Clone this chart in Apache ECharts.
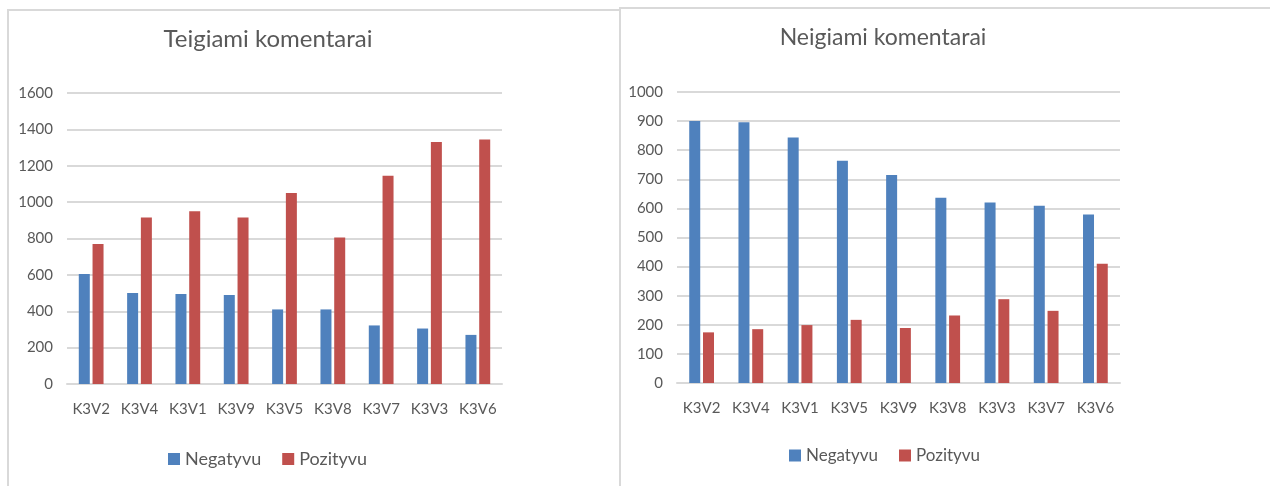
<!DOCTYPE html>
<html>
<head>
<meta charset="utf-8">
<script src="https://cdn.jsdelivr.net/npm/echarts@6/dist/echarts.min.js"></script>
<style>
  html, body { margin: 0; padding: 0; background: #fff; }
  #chart { width: 1270px; height: 486px; }
</style>
</head>
<body>
<div id="chart"></div>
<script>
// Positive comments chart
const posCategories = ['K3V2', 'K3V4', 'K3V1', 'K3V9', 'K3V5', 'K3V8', 'K3V7', 'K3V3', 'K3V6'];
const posNegatyvu = [605, 500, 495, 490, 410, 410, 322, 305, 270];
const posPozityvu = [770, 915, 950, 915, 1050, 805, 1145, 1330, 1345];

// Negative comments chart
const negCategories = ['K3V2', 'K3V4', 'K3V1', 'K3V5', 'K3V9', 'K3V8', 'K3V3', 'K3V7', 'K3V6'];
const negNegatyvu = [900, 896, 844, 764, 715, 637, 620, 609, 579];
const negPozityvu = [174, 185, 199, 217, 189, 232, 288, 248, 410];

const seriesNames = ['Negatyvu', 'Pozityvu'];
const titles = ['Teigiami komentarai', 'Neigiami komentarai'];

const BLUE = '#4F81BD';
const RED = '#C0504D';
const TEXT = '#595959';
const GRID = '#D9D9D9';
const FONT = 'Lato, "Open Sans", sans-serif';

const chart = echarts.init(document.getElementById('chart'), null, { renderer: 'canvas' });

function yAxis(gridIndex, max, interval, size) {
  return {
    type: 'value', gridIndex, min: 0, max, interval,
    axisLine: { show: false }, axisTick: { show: false },
    axisLabel: { color: TEXT, fontFamily: FONT, fontSize: size, margin: 14,
                 formatter: v => String(v) },
    splitLine: { lineStyle: { color: GRID, width: 2 } }
  };
}
function xAxis(gridIndex, data, size) {
  return {
    type: 'category', gridIndex, data,
    axisLine: { lineStyle: { color: GRID, width: 2 } },
    axisTick: { show: false },
    axisLabel: { color: TEXT, fontFamily: FONT, fontSize: size, margin: 18, interval: 0 }
  };
}
function bar(name, data, axisIndex, color) {
  return {
    name, type: 'bar', data, xAxisIndex: axisIndex, yAxisIndex: axisIndex,
    barWidth: 11, barGap: '25%',
    itemStyle: { color }
  };
}

chart.setOption({
  animation: false,
  title: [
    { text: titles[0], left: 263, top: 22, textAlign: 'center',
      textStyle: { color: TEXT, fontFamily: FONT, fontSize: 24, fontWeight: 'normal' } },
    { text: titles[1], left: 878, top: 21, textAlign: 'center',
      textStyle: { color: TEXT, fontFamily: FONT, fontSize: 23, fontWeight: 'normal' } }
  ],
  legend: [
    { data: seriesNames, left: 163, top: 445, icon: 'rect', itemWidth: 12, itemHeight: 12, itemGap: 21,
      textStyle: { color: TEXT, fontFamily: FONT, fontSize: 18 } },
    { data: seriesNames, left: 784, top: 442, icon: 'rect', itemWidth: 12, itemHeight: 12, itemGap: 21,
      textStyle: { color: TEXT, fontFamily: FONT, fontSize: 17 } }
  ],
  grid: [
    { left: 67, top: 93, width: 435, height: 291, containLabel: false },
    { left: 677, top: 92, width: 443, height: 291, containLabel: false }
  ],
  xAxis: [xAxis(0, posCategories, 15), xAxis(1, negCategories, 15)],
  yAxis: [yAxis(0, 1600, 200, 15), yAxis(1, 1000, 100, 15)],
  series: [
    bar(seriesNames[0], posNegatyvu, 0, BLUE),
    bar(seriesNames[1], posPozityvu, 0, RED),
    bar(seriesNames[0], negNegatyvu, 1, BLUE),
    bar(seriesNames[1], negPozityvu, 1, RED)
  ],
  graphic: [
    // panel frames
    { type: 'polyline', shape: { points: [[8, 486], [8, 10], [620, 10]] },
      style: { stroke: '#D9D9D9', lineWidth: 2, fill: null } },
    { type: 'polyline', shape: { points: [[620, 486], [620, 8], [1270, 8]] },
      style: { stroke: '#D9D9D9', lineWidth: 2, fill: null } }
  ]
});
</script>
</body>
</html>
